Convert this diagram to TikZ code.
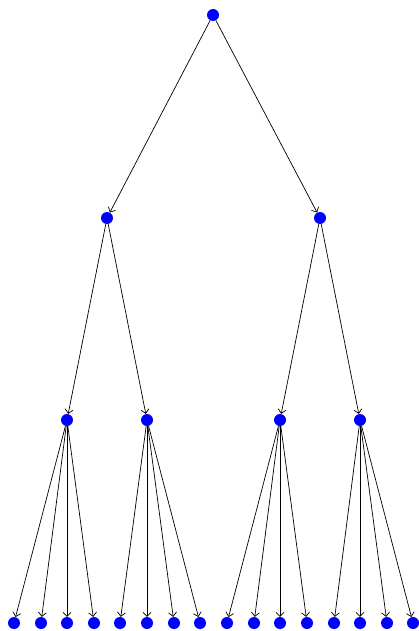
\documentclass[tikz,border=0pt]{standalone}
\usetikzlibrary{arrows.meta}
\begin{document}
\begin{tikzpicture}[x=1pt,y=-1pt,
  dot/.style={circle,fill=blue,inner sep=0pt,minimum size=12pt},
  edge/.style={-{Straight Barb[length=4pt,width=8pt]},line width=0.7pt}]
\useasboundingbox (0,0) rectangle (419,631);
\node[dot] (r) at (213,15) {};
\node[dot] (a) at (107,218) {};
\node[dot] (b) at (320,218) {};
\node[dot] (a1) at (67,420) {};
\node[dot] (a2) at (147,420) {};
\node[dot] (b1) at (280,420) {};
\node[dot] (b2) at (360,420) {};
\foreach \n/\x in {l1/14,l2/41,l3/67,l4/94,l5/120,l6/147,l7/174,l8/200,l9/227,l10/254,l11/280,l12/307,l13/334,l14/360,l15/387,l16/413}
  \node[dot] (\n) at (\x,623) {};
\draw[edge] (r) -- (a);
\draw[edge] (r) -- (b);
\draw[edge] (a) -- (a1);
\draw[edge] (a) -- (a2);
\draw[edge] (b) -- (b1);
\draw[edge] (b) -- (b2);
\foreach \p/\c in {a1/l1,a1/l2,a1/l3,a1/l4,a2/l5,a2/l6,a2/l7,a2/l8,b1/l9,b1/l10,b1/l11,b1/l12,b2/l13,b2/l14,b2/l15,b2/l16}
  \draw[edge] (\p) -- (\c);
\end{tikzpicture}
\end{document}
